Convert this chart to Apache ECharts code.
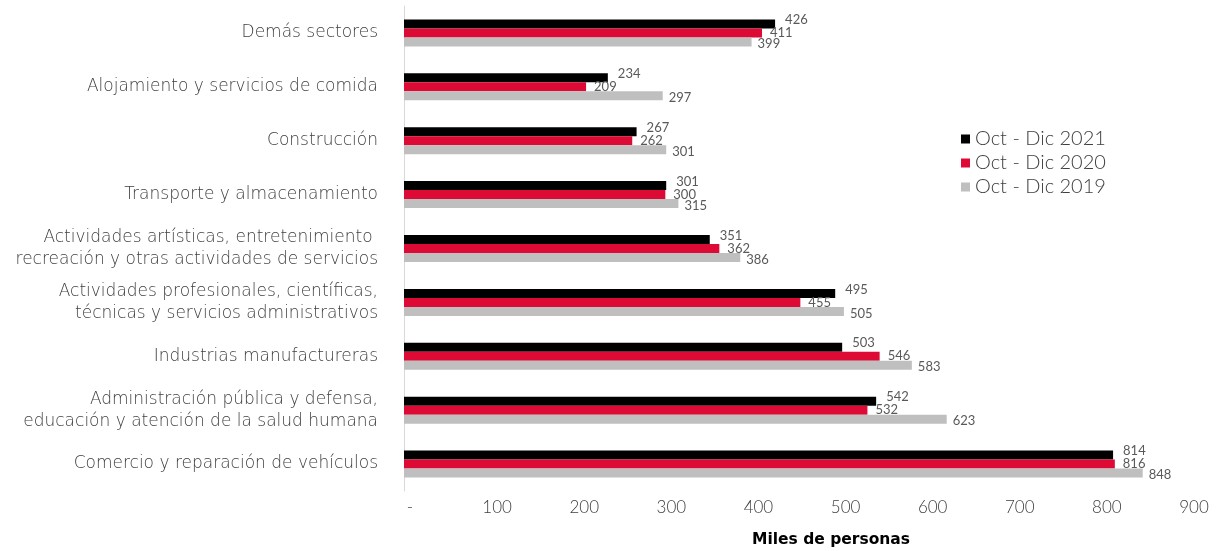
<!DOCTYPE html>
<html>
<head>
<meta charset="utf-8">
<script src="https://cdn.jsdelivr.net/npm/echarts@6/dist/echarts.min.js"></script>
<style>html,body{margin:0;padding:0;background:#fff;}#chart{width:1228px;height:551px;}</style>
</head>
<body>
<div id="chart"></div>
<script>
const categories = [
  "Demás sectores",
  "Alojamiento y servicios de comida",
  "Construcción",
  "Transporte y almacenamiento",
  "Actividades artísticas, entretenimiento \nrecreación y otras actividades de servicios",
  "Actividades profesionales, científicas,\ntécnicas y servicios administrativos",
  "Industrias manufactureras",
  "Administración pública y defensa,\neducación y atención de la salud humana",
  "Comercio y reparación de vehículos"
];
const seriesNames = ["Oct - Dic 2021", "Oct - Dic 2020", "Oct - Dic 2019"];
const values2021 = [426, 234, 267, 301, 351, 495, 503, 542, 814];
const values2020 = [411, 209, 262, 300, 362, 455, 546, 532, 816];
const values2019 = [399, 297, 301, 315, 386, 505, 583, 623, 848];
const xTicks = [0, 100, 200, 300, 400, 500, 600, 700, 800, 900];
const colors = ["#000000", "#DC0A35", "#BFBFBF"];

const FONT = "Lato, 'Open Sans', sans-serif";
const WIDE = "'DejaVu Sans', sans-serif";
const chart = echarts.init(document.getElementById('chart'));
function mk(name, data, color, offX, offY) {
  return {
    name: name, type: 'bar', data: data,
    barWidth: 9, barGap: '0%', barCategoryGap: '50%',
    itemStyle: { color: color },
    label: { show: true, position: 'right', distance: 4, offset: [offX, offY],
      color: '#595959', fontSize: 13, fontFamily: FONT },
    emphasis: { disabled: true }
  };
}
chart.setOption({
  animation: false,
  grid: { left: 404, right: 40, top: 6, bottom: 60, containLabel: false },
  legend: {
    data: seriesNames, orient: 'vertical', left: 956, top: 124,
    icon: 'rect', itemWidth: 9, itemHeight: 9, itemGap: 4,
    textStyle: { fontSize: 20, color: '#404040', fontFamily: FONT, fontWeight: 300 }
  },
  title: {
    text: 'Miles de personas', left: 747, top: 527,
    textStyle: { fontSize: 15.5, fontWeight: 'bold', color: '#000', fontFamily: WIDE }
  },
  xAxis: {
    type: 'value', min: 0, max: 900, interval: 100,
    axisLine: { show: false }, axisTick: { show: false }, splitLine: { show: false },
    axisLabel: { margin: 8, fontSize: 17, color: '#404040', fontFamily: FONT, fontWeight: 300,
      padding: [0, 0, 0, 12],
      formatter: v => xTicks.includes(v) ? (v === 0 ? '-' : String(v)) : '' }
  },
  yAxis: {
    type: 'category', data: categories, inverse: true,
    axisLine: { show: true, lineStyle: { color: '#D9D9D9', width: 1 } },
    axisTick: { show: false },
    axisLabel: { margin: 26, fontSize: 17, color: '#404040', fontFamily: WIDE, fontWeight: 200,
      lineHeight: 22, align: 'right' }
  },
  series: [
    mk(seriesNames[0], values2021, colors[0], 6, -4),
    mk(seriesNames[1], values2020, colors[1], 4, 0),
    mk(seriesNames[2], values2019, colors[2], 2, 2)
  ]
});
</script>
</body>
</html>
